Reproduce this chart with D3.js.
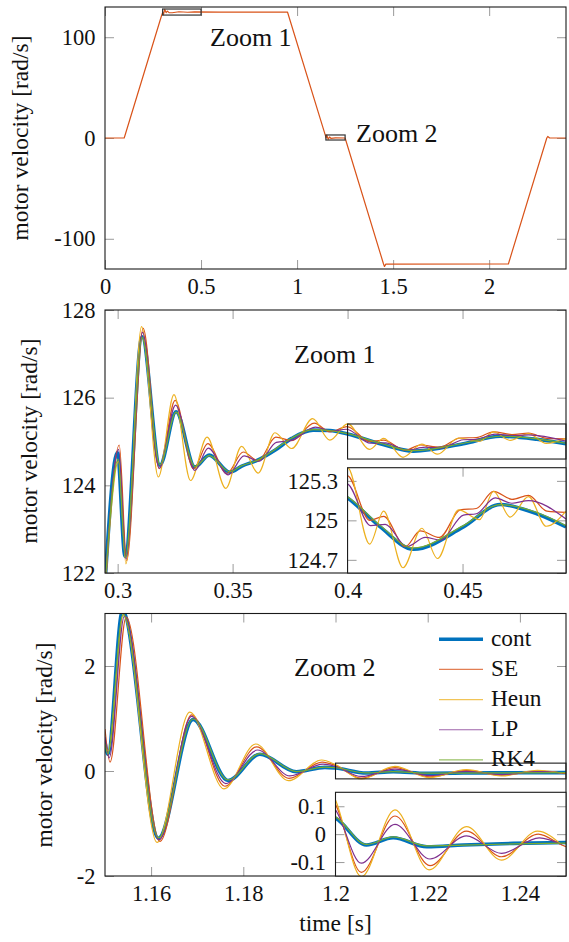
<!DOCTYPE html>
<html lang="en">
<head>
<meta charset="UTF-8">
<title>Motor velocity</title>
<script src="https://d3js.org/d3.v7.min.js"></script>
<style>
  body { margin: 0; background: #fff; }
  text { font-family: "Liberation Serif", "Times New Roman", serif; fill: #111; }
</style>
</head>
<body>
<div id="chart"></div>
<script>
// ---- data: [time s, velocity rad/s] ----
var seriesNames = ["cont", "SE", "Heun", "LP", "RK4"];

// whole run (top plot)
var overview = [[0, 0], [0.1, 0], [0.2946, 121.6], [0.3007, 124.9], [0.3039, 122.3], [0.3111, 127.6],
    [0.3181, 124.4], [0.325, 125.9], [0.3336, 124.4], [0.35, 124.3], [0.385, 125.3], [0.43, 124.8],
    [0.466, 125.1], [0.6, 125], [0.95, 125], [1.15, 0.8], [1.1511, 0.2], [1.1546, 2.9], [1.1619, -1.3],
    [1.169, 1.0], [1.176, -0.3], [1.2, 0.1], [1.25, 0], [1.45, -125], [1.455, -127.5], [1.462, -125.2],
    [2.1, -125], [2.3, 0], [2.305, 1.5], [2.315, 0], [2.4, 0]];

// Zoom 1
var zoom1Cont = [[0.2946, 121.85], [0.2999, 124.75], [0.3032, 122.38], [0.3106, 127.39], [0.3184, 124.46],
    [0.3254, 125.68], [0.3336, 124.42], [0.3398, 124.69], [0.3488, 124.30], [0.3540, 124.44], [0.3611, 124.58],
    [0.3684, 124.80], [0.3757, 125.07], [0.3850, 125.26], [0.3923, 125.25], [0.4000, 125.17], [0.4142, 124.95],
    [0.4287, 124.78], [0.4504, 124.95], [0.4664, 125.12], [0.4823, 125.05], [0.4950, 124.95]];
var zoom1SE = [[0.2946, 121.6], [0.3007, 124.92], [0.3039, 122.28], [0.3111, 127.58], [0.3181, 124.38],
    [0.3250, 125.94], [0.3330, 124.38], [0.3392, 124.95], [0.3475, 124.27], [0.3546, 124.76], [0.3611, 124.56],
    [0.3688, 125.10], [0.3757, 125.02], [0.3855, 125.42], [0.3923, 125.22], [0.3998, 125.34], [0.4096, 125.00],
    [0.4157, 125.03], [0.4251, 124.80], [0.4316, 124.92], [0.4400, 124.87], [0.4490, 125.08], [0.4560, 125.09],
    [0.4635, 125.22], [0.4715, 125.16], [0.4787, 125.19], [0.4867, 125.07], [0.4950, 125.06]];
var zoom1Heun = [[0.2946, 121.7], [0.3004, 124.55], [0.3036, 122.21], [0.3104, 127.62], [0.3177, 124.19],
    [0.3245, 126.07], [0.3317, 124.11], [0.3389, 125.10], [0.3470, 123.93], [0.3539, 124.89], [0.3611, 124.28],
    [0.3684, 125.20], [0.3757, 124.84], [0.3848, 125.52], [0.3923, 125.03], [0.4000, 125.40], [0.4096, 124.82],
    [0.4157, 125.07], [0.4241, 124.64], [0.4323, 124.94], [0.4391, 124.71], [0.4483, 125.08], [0.4574, 125.005],
    [0.4635, 125.22], [0.4707, 125.025], [0.4787, 125.18], [0.4864, 124.955], [0.4950, 125.07]];
var zoom1LP = [[0.2946, 121.7], [0.3004, 124.82], [0.3036, 122.32], [0.3108, 127.49], [0.3181, 124.39],
    [0.3252, 125.83], [0.3336, 124.34], [0.3394, 124.85], [0.3481, 124.24], [0.3550, 124.67], [0.3615, 124.55],
    [0.3690, 124.98], [0.3760, 125.03], [0.3860, 125.33], [0.3930, 125.24], [0.3995, 125.28], [0.4100, 124.96],
    [0.4164, 124.97], [0.4258, 124.80], [0.4338, 124.87], [0.4404, 124.85], [0.4504, 125.04], [0.4560, 125.05],
    [0.4642, 125.17], [0.4715, 125.13], [0.4787, 125.15], [0.4950, 125.01]];
var zoom1RK4 = [[0.2946, 121.75], [0.3002, 124.60], [0.3034, 122.36], [0.3106, 127.37], [0.3184, 124.47],
    [0.3254, 125.67], [0.3336, 124.43], [0.3398, 124.68], [0.3488, 124.31], [0.3540, 124.45], [0.3611, 124.58],
    [0.3684, 124.82], [0.3757, 125.08], [0.3850, 125.27], [0.3923, 125.25], [0.4000, 125.18], [0.4142, 124.96],
    [0.4287, 124.79], [0.4504, 124.96], [0.4664, 125.12], [0.4823, 125.06], [0.4950, 124.96]];

// Zoom 2
var zoom2Cont = [[1.1500, 0.55], [1.1506, 0.32], [1.1538, 3.05], [1.1616, -1.28], [1.1691, 0.98],
    [1.1767, -0.18], [1.1836, 0.32], [1.1915, -0.013], [1.1977, 0.07], [1.2000, 0.057], [1.2067, -0.039],
    [1.2125, -0.013], [1.2198, -0.045], [1.2277, -0.039], [1.2386, -0.033], [1.2500, -0.030]];
var zoom2SE = [[1.1500, 0.80], [1.1511, 0.17], [1.1546, 2.93], [1.1619, -1.34], [1.1688, 1.07],
    [1.1760, -0.29], [1.1829, 0.46], [1.1899, -0.14], [1.1971, 0.17], [1.2000, 0.107], [1.2056, -0.137],
    [1.2129, 0.065], [1.2205, -0.113], [1.2284, 0.011], [1.2360, -0.081], [1.2440, 0.0], [1.2491, -0.039],
    [1.2500, -0.045]];
var zoom2Heun = [[1.1500, 0.50], [1.1507, 0.38], [1.1540, 2.98], [1.1613, -1.36], [1.1684, 1.12],
    [1.1758, -0.34], [1.1827, 0.514], [1.1898, -0.185], [1.1970, 0.21], [1.2000, 0.122], [1.2056, -0.152],
    [1.2129, 0.087], [1.2203, -0.128], [1.2284, 0.027], [1.2360, -0.093], [1.2438, 0.011], [1.2491, -0.039]];
var zoom2LP = [[1.1500, 0.65], [1.1509, 0.25], [1.1542, 2.95], [1.1617, -1.31], [1.1688, 1.04],
    [1.1762, -0.24], [1.1831, 0.40], [1.1901, -0.094], [1.1973, 0.13], [1.2000, 0.087], [1.2056, -0.104],
    [1.2129, 0.035], [1.2205, -0.089], [1.2284, -0.006], [1.2360, -0.069], [1.2442, -0.013], [1.2491, -0.037]];
var zoom2RK4 = [[1.1500, 0.52], [1.1506, 0.33], [1.1539, 2.98], [1.1616, -1.27], [1.1691, 0.99],
    [1.1767, -0.17], [1.1836, 0.33], [1.1915, -0.01], [1.1977, 0.075], [1.2000, 0.062], [1.2067, -0.037],
    [1.2125, -0.010], [1.2198, -0.042], [1.2277, -0.039], [1.2386, -0.035], [1.2500, -0.032]];

// ticks
var topXTicks = [0, 0.5, 1, 1.5, 2];
var topYTicks = [-100, 0, 100];
var zoom1XTicks = [0.3, 0.35, 0.4, 0.45];
var zoom1YTicks = [122, 124, 126, 128];
var zoom1InsetYTicks = [124.7, 125, 125.3];
var zoom2XTicks = [1.16, 1.18, 1.2, 1.22, 1.24];
var zoom2YTicks = [-2, 0, 2];
var zoom2InsetYTicks = [-0.1, 0, 0.1];

// ---- drawing ----
var colors = { cont: "#0072BD", SE: "#D95319", Heun: "#EDB120", LP: "#7E2F8E", RK4: "#77AC30" };
var widths = { cont: 3.6, SE: 1.2, Heun: 1.2, LP: 1.2, RK4: 1.2 };
var tickFont = 22.5;

var svg = d3.select("#chart").append("svg")
    .attr("width", 569)
    .attr("height", 942);

var left = 105, right = 566;
var clipId = 0;

function fmt(d) { return String(d); }

function addClip(x0, y0, x1, y1) {
    var id = "clip" + (clipId++);
    svg.append("clipPath").attr("id", id)
        .append("rect").attr("x", x0).attr("y", y0).attr("width", x1 - x0).attr("height", y1 - y0);
    return "url(#" + id + ")";
}

function styleAxis(g, showLabels) {
    g.select(".domain").remove();
    g.selectAll(".tick line").attr("stroke", "#9a9a9a").attr("stroke-width", 1);
    g.attr("font-family", null).attr("font-size", null);
    g.selectAll("text").attr("font-size", tickFont).attr("fill", "#111");
    if (!showLabels) g.selectAll("text").remove();
}

// inward ticks on all four sides
function drawTicks(x, y, xTicks, yTicks, xLabels) {
    var x0 = x.range()[0], x1 = x.range()[1], yb = y.range()[0], yt = y.range()[1];
    if (xTicks.length) {
        svg.append("g").attr("transform", "translate(0," + yb + ")")
            .call(d3.axisBottom(x).tickValues(xTicks).tickSizeInner(-9).tickSizeOuter(0).tickPadding(9.5).tickFormat(fmt))
            .call(function(g) { styleAxis(g, xLabels); });
        svg.append("g").attr("transform", "translate(0," + yt + ")")
            .call(d3.axisTop(x).tickValues(xTicks).tickSizeInner(-9).tickSizeOuter(0))
            .call(function(g) { styleAxis(g, false); });
    }
    svg.append("g").attr("transform", "translate(" + x0 + ",0)")
        .call(d3.axisLeft(y).tickValues(yTicks).tickSizeInner(-9).tickSizeOuter(0).tickPadding(9.5).tickFormat(fmt))
        .call(function(g) { styleAxis(g, true); });
    svg.append("g").attr("transform", "translate(" + x1 + ",0)")
        .call(d3.axisRight(y).tickValues(yTicks).tickSizeInner(-9).tickSizeOuter(0))
        .call(function(g) { styleAxis(g, false); });
}

function drawFrame(x0, y0, x1, y1, fill) {
    svg.append("rect")
        .attr("x", x0).attr("y", y0)
        .attr("width", x1 - x0).attr("height", y1 - y0)
        .attr("fill", fill || "none")
        .attr("stroke", "#1a1a1a")
        .attr("stroke-width", 1.1);
}

function drawSeries(x, y, list, clip, curve) {
    var line = d3.line()
        .x(function(d) { return x(d[0]); })
        .y(function(d) { return y(d[1]); })
        .curve(curve);
    var g = svg.append("g").attr("clip-path", clip);
    list.forEach(function(s) {
        g.append("path")
            .datum(s.data)
            .attr("d", line)
            .attr("fill", "none")
            .attr("stroke", colors[s.name])
            .attr("stroke-width", widths[s.name])
            .attr("stroke-linejoin", "round");
    });
}

function yLabel(xPos, yMid) {
    svg.append("text")
        .attr("transform", "translate(" + xPos + "," + yMid + ") rotate(-90)")
        .attr("text-anchor", "middle")
        .style("font-size", "23.5px")
        .text("motor velocity [rad/s]");
}

function zoomLabel(xPos, yPos, txt) {
    svg.append("text")
        .attr("x", xPos).attr("y", yPos)
        .style("font-size", "26px")
        .text(txt);
}

// --- top: whole run ---
var xTop = d3.scaleLinear().domain([0, 2.4]).range([left, right]);
var yTop = d3.scaleLinear().domain([-130, 130]).range([269, 7]);
drawTicks(xTop, yTop, topXTicks, topYTicks, true);
drawSeries(xTop, yTop, [{ name: "SE", data: overview }], addClip(left, 7, right, 269), d3.curveLinear);
// marked zoom windows
[[0.3, 0.5, 122, 128], [1.15, 1.25, -2, 3]].forEach(function(b) {
    svg.append("rect")
        .attr("x", xTop(b[0])).attr("y", yTop(b[3]))
        .attr("width", xTop(b[1]) - xTop(b[0])).attr("height", yTop(b[2]) - yTop(b[3]))
        .attr("fill", "none").attr("stroke", "#333").attr("stroke-width", 1.2);
});
drawFrame(left, 7, right, 269);
zoomLabel(210, 46, "Zoom 1");
zoomLabel(356, 142, "Zoom 2");
yLabel(28, 138);

// --- middle: Zoom 1 ---
var z1 = [
    { name: "cont", data: zoom1Cont }, { name: "SE", data: zoom1SE }, { name: "Heun", data: zoom1Heun },
    { name: "LP", data: zoom1LP }, { name: "RK4", data: zoom1RK4 }
];
var x1 = d3.scaleLinear().domain([0.2945, 0.495]).range([left, right]);
var y1 = d3.scaleLinear().domain([122, 128]).range([573, 310]);
drawTicks(x1, y1, zoom1XTicks, zoom1YTicks, true);
drawSeries(x1, y1, z1, addClip(left, 310, right, 573), d3.curveMonotoneX);
drawFrame(left, 310, right, 573);
svg.append("rect")
    .attr("x", x1(0.4)).attr("y", y1(125.4))
    .attr("width", right - x1(0.4)).attr("height", y1(124.6) - y1(125.4))
    .attr("fill", "none").attr("stroke", "#1a1a1a").attr("stroke-width", 1.1);

var x1i = d3.scaleLinear().domain([0.4, 0.495]).range([x1(0.4), right]);
var y1i = d3.scaleLinear().domain([124.6, 125.4]).range([573, 467.7]);
svg.append("rect").attr("x", x1(0.4)).attr("y", 467.7)
    .attr("width", right - x1(0.4)).attr("height", 573 - 467.7).attr("fill", "#fff");
drawTicks(x1i, y1i, [0.45], zoom1InsetYTicks, false);
drawSeries(x1i, y1i, z1, addClip(x1(0.4), 467.7, right, 573), d3.curveMonotoneX);
drawFrame(x1(0.4), 467.7, right, 573);
zoomLabel(294, 363, "Zoom 1");
yLabel(37, 441);

// --- bottom: Zoom 2 ---
var z2 = [
    { name: "cont", data: zoom2Cont }, { name: "SE", data: zoom2SE }, { name: "Heun", data: zoom2Heun },
    { name: "LP", data: zoom2LP }, { name: "RK4", data: zoom2RK4 }
];
var x2 = d3.scaleLinear().domain([1.15, 1.25]).range([left, right]);
var y2 = d3.scaleLinear().domain([-2, 3]).range([876, 613.5]);
drawTicks(x2, y2, zoom2XTicks, zoom2YTicks, true);
drawSeries(x2, y2, z2, addClip(left, 613.5, right, 876), d3.curveMonotoneX);
drawFrame(left, 613.5, right, 876);
svg.append("rect")
    .attr("x", x2(1.2)).attr("y", y2(0.15))
    .attr("width", right - x2(1.2)).attr("height", y2(-0.15) - y2(0.15))
    .attr("fill", "none").attr("stroke", "#1a1a1a").attr("stroke-width", 1.1);

var x2i = d3.scaleLinear().domain([1.2, 1.25]).range([x2(1.2), right]);
var y2i = d3.scaleLinear().domain([-0.15, 0.15]).range([876, 792.3]);
svg.append("rect").attr("x", x2(1.2)).attr("y", 792.3)
    .attr("width", right - x2(1.2)).attr("height", 876 - 792.3).attr("fill", "#fff");
drawTicks(x2i, y2i, [], zoom2InsetYTicks, false);
drawSeries(x2i, y2i, z2, addClip(x2(1.2), 792.3, right, 876), d3.curveMonotoneX);
drawFrame(x2(1.2), 792.3, right, 876);
zoomLabel(294, 676, "Zoom 2");
yLabel(52, 745);

svg.append("text")
    .attr("x", (left + right) / 2).attr("y", 931)
    .attr("text-anchor", "middle")
    .style("font-size", "23.5px")
    .text("time [s]");

// legend
var legend = svg.append("g").attr("transform", "translate(439,639.3)");
seriesNames.forEach(function(name, i) {
    var row = legend.append("g").attr("transform", "translate(0," + (i * 30.15) + ")");
    row.append("line")
        .attr("x1", 0).attr("x2", 44).attr("y1", 0).attr("y2", 0)
        .attr("stroke", colors[name])
        .attr("stroke-width", name === "cont" ? 3.4 : 1.2)
        .attr("opacity", name === "cont" ? 1 : 0.75);
    row.append("text")
        .attr("x", 52).attr("y", 6.5)
        .style("font-size", "23.3px")
        .text(name);
});
</script>
</body>
</html>
